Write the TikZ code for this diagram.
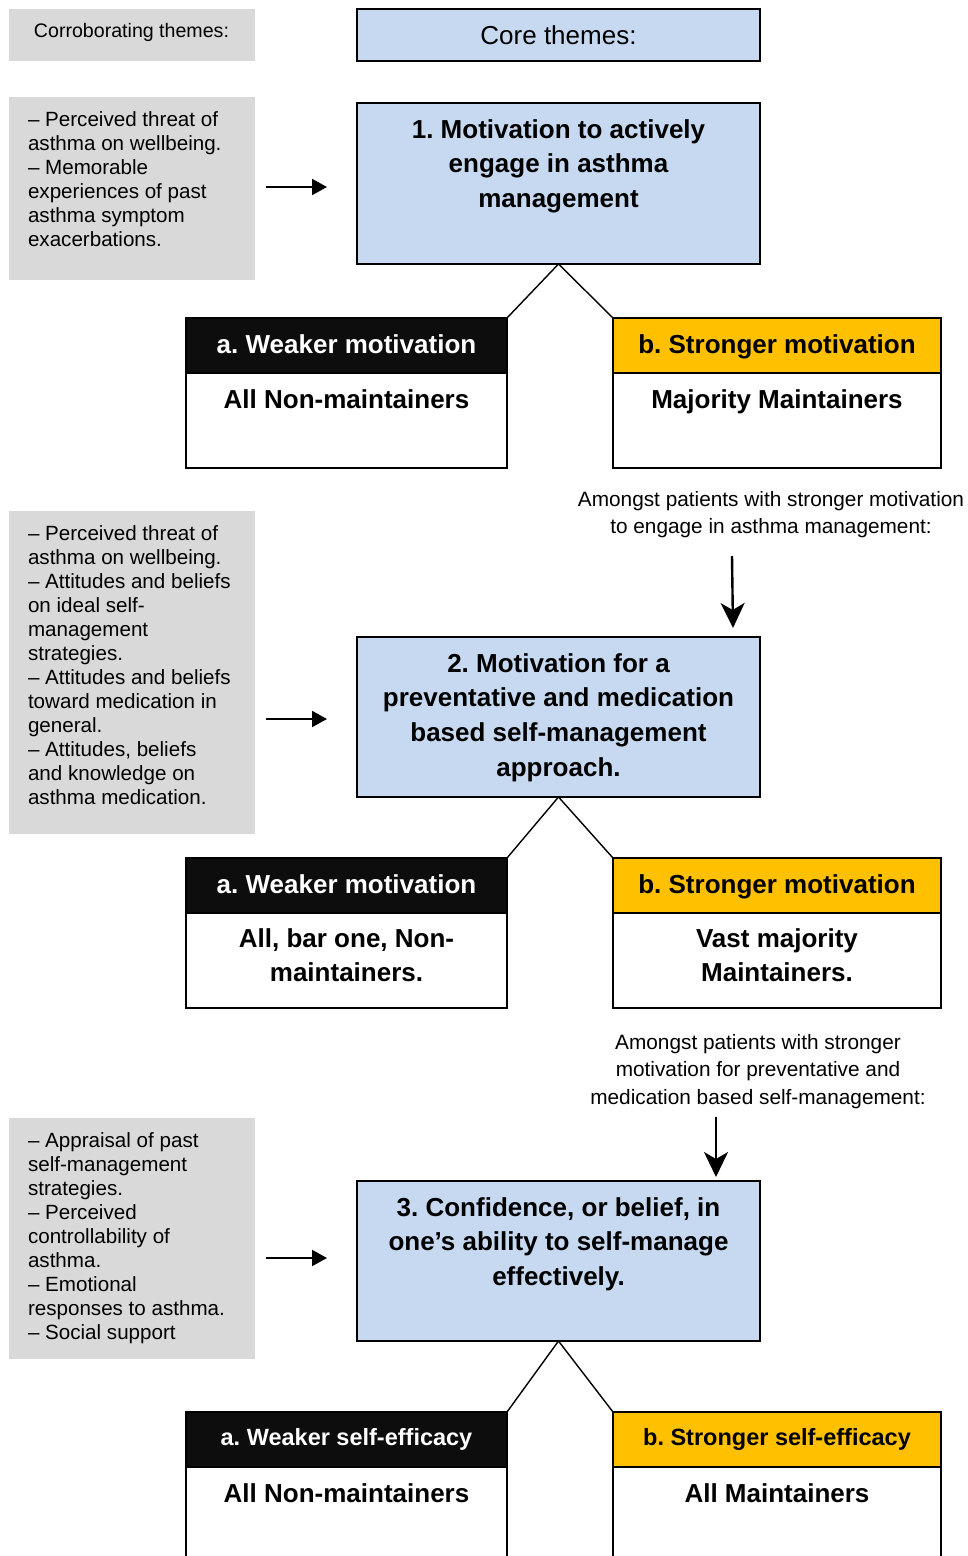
\documentclass[tikz,border=0pt]{standalone}
\usepackage{fontspec}
\setmainfont{Liberation Sans}
\usetikzlibrary{arrows.meta}
\definecolor{coreblue}{RGB}{198,217,241}
\definecolor{sidegrey}{RGB}{217,217,217}
\definecolor{amber}{RGB}{255,192,0}
\definecolor{headblack}{RGB}{13,13,13}
\frenchspacing
\tikzset{
  every node/.style={inner sep=0pt, outer sep=0pt},
  greybox/.style={fill=sidegrey, minimum width=246pt, anchor=north west},
  corebox/.style={draw, line width=1.6pt, fill=coreblue, minimum width=403pt, anchor=north west},
  weakhead/.style={draw, line width=1.6pt, fill=headblack, minimum width=321pt, minimum height=55pt, anchor=north west},
  stronghead/.style={draw, line width=1.6pt, fill=amber, minimum width=328pt, minimum height=55pt, anchor=north west},
  weakbody/.style={draw, line width=1.6pt, fill=white, minimum width=321pt, anchor=north west},
  strongbody/.style={draw, line width=1.6pt, fill=white, minimum width=328pt, anchor=north west},
  % multi-line texts are placed by the baseline of their last line
  titletext/.style={anchor=base, align=center, font=\fontsize{26}{34.7}\selectfont\bfseries},
  headtext/.style={anchor=base, font=\fontsize{26}{34}\selectfont\bfseries},
  smallhead/.style={anchor=base, font=\fontsize{23.5}{30}\selectfont\bfseries},
  bodytext/.style={anchor=base, align=center, font=\fontsize{26}{34}\selectfont\bfseries},
  sidetext/.style={anchor=base west, align=left, font=\fontsize{20.6}{24}\selectfont},
  notetext/.style={anchor=base, align=center, font=\fontsize{20.8}{27.8}\selectfont},
  link/.style={line width=1.4pt},
  sidearrow/.style={line width=2pt, -{Triangle[length=15pt,width=16pt]}},
  downarrow/.style={line width=2.4pt, -{Stealth[length=25pt,width=24pt,inset=7pt]}}
}
\begin{document}
\begin{tikzpicture}[x=1pt,y=-1pt]
\useasboundingbox (0,0) rectangle (967,1556);
\clip (0,0) rectangle (967,1556);

% column headings
\node[greybox, minimum height=52pt] (g0) at (9,9) {};
\node[anchor=base west, font=\fontsize{19.6}{24}\selectfont] (g0t) at (34,37) {Corroborating themes:};
\node[corebox, minimum height=52pt] (core) at (357,9) {};
\node[anchor=base, font=\fontsize{26}{32}\selectfont] (coret) at (558.5,44.5) {Core themes:};

% theme 1
\node[greybox, minimum height=183pt] (g1) at (9,97) {};
\node[sidetext] (g1t) at (28,246) {– Perceived threat of\\asthma on wellbeing.\\– Memorable\\experiences of past\\asthma symptom\\exacerbations.};
\node[corebox, minimum height=161pt] (m1) at (357,103) {};
\node[titletext] (m1t) at (558.5,207.4) {1. Motivation to actively\\engage in asthma\\management};
\coordinate (s1) at (266,187);
\coordinate (e1) at (327,187);
\draw[sidearrow] (s1) -- (e1);

\node[weakhead] (a1h) at (186,318) {};
\node[weakbody, minimum height=95pt] (a1b) at (186,373) {};
\node[headtext, text=white] (a1ht) at (346.5,353) {a. Weaker motivation};
\node[bodytext] (a1bt) at (346.5,408) {All Non-maintainers};
\node[stronghead] (b1h) at (613,318) {};
\node[strongbody, minimum height=95pt] (b1b) at (613,373) {};
\node[headtext] (b1ht) at (777,353) {b. Stronger motivation};
\node[bodytext] (b1bt) at (777,408) {Majority Maintainers};
\draw[link] (m1.south) -- (a1h.north east);
\draw[link] (m1.south) -- (b1h.north west);

\node[notetext] (n1) at (771,533.8) {Amongst patients with stronger motivation\\to engage in asthma management:};
\coordinate (v1s) at (732,556);
\coordinate (v1e) at (733,628);
\draw[downarrow] (v1s) -- (v1e);

% theme 2
\node[greybox, minimum height=323pt] (g2) at (9,511) {};
\node[sidetext] (g2t) at (28,804) {– Perceived threat of\\asthma on wellbeing.\\– Attitudes and beliefs\\on ideal self-\\management\\strategies.\\– Attitudes and beliefs\\toward medication in\\general.\\– Attitudes, beliefs\\and knowledge on\\asthma medication.};
\node[corebox, minimum height=160pt] (m2) at (357,637) {};
\node[titletext] (m2t) at (558.5,776.1) {2. Motivation for a\\preventative and medication\\based self-management\\approach.};
\coordinate (s2) at (266,719);
\coordinate (e2) at (327,719);
\draw[sidearrow] (s2) -- (e2);

\node[weakhead] (a2h) at (186,858) {};
\node[weakbody, minimum height=95pt] (a2b) at (186,913) {};
\node[headtext, text=white] (a2ht) at (346.5,893) {a. Weaker motivation};
\node[bodytext] (a2bt) at (346.5,981) {All, bar one, Non-\\maintainers.};
\node[stronghead] (b2h) at (613,858) {};
\node[strongbody, minimum height=95pt] (b2b) at (613,913) {};
\node[headtext] (b2ht) at (777,893) {b. Stronger motivation};
\node[bodytext] (b2bt) at (777,981) {Vast majority\\Maintainers.};
\draw[link] (m2.south) -- (a2h.north east);
\draw[link] (m2.south) -- (b2h.north west);

\node[notetext, font=\fontsize{20.8}{27.5}\selectfont] (n2) at (758,1104) {Amongst patients with stronger\\motivation for preventative and\\medication based self-management:};
\coordinate (v2s) at (716,1117);
\coordinate (v2e) at (716,1177);
\draw[downarrow] (v2s) -- (v2e);

% theme 3
\node[greybox, minimum height=241pt] (g3) at (9,1118) {};
\node[sidetext] (g3t) at (28,1339) {– Appraisal of past\\self-management\\strategies.\\– Perceived\\controllability of\\asthma.\\– Emotional\\responses to asthma.\\– Social support};
\node[corebox, minimum height=160pt] (m3) at (357,1181) {};
\node[titletext] (m3t) at (558.5,1285.4) {3. Confidence, or belief, in\\one’s ability to self-manage\\effectively.};
\coordinate (s3) at (266,1258);
\coordinate (e3) at (327,1258);
\draw[sidearrow] (s3) -- (e3);

\node[weakhead] (a3h) at (186,1412) {};
\node[weakbody, minimum height=140pt] (a3b) at (186,1467) {};
\node[smallhead, text=white] (a3ht) at (346.5,1445) {a. Weaker self-efficacy};
\node[bodytext] (a3bt) at (346.5,1502) {All Non-maintainers};
\node[stronghead] (b3h) at (613,1412) {};
\node[strongbody, minimum height=140pt] (b3b) at (613,1467) {};
\node[smallhead] (b3ht) at (777,1445) {b. Stronger self-efficacy};
\node[bodytext] (b3bt) at (777,1502) {All Maintainers};
\draw[link] (m3.south) -- (a3h.north east);
\draw[link] (m3.south) -- (b3h.north west);
\end{tikzpicture}
\end{document}
